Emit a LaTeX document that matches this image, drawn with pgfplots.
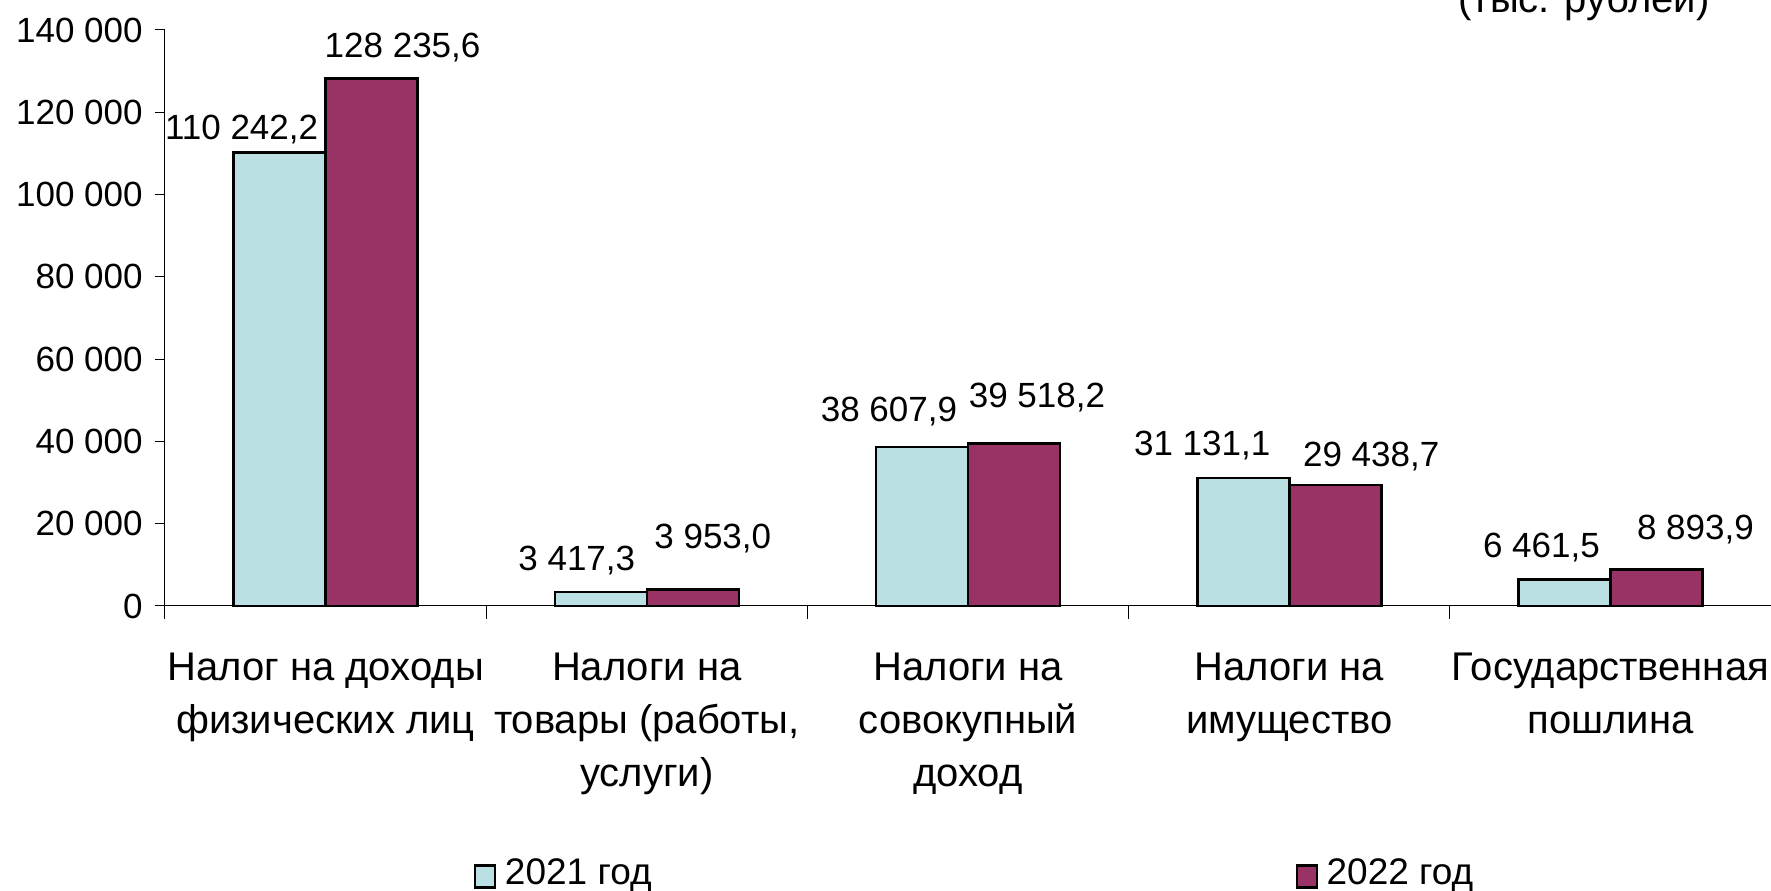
\documentclass[border=0pt]{standalone}
\usepackage{pgfplots}
\usepackage{pgfplotstable}
\pgfplotsset{compat=1.18}
\usepackage{fontspec}
\setmainfont{Liberation Sans}
\definecolor{c21}{HTML}{BBE0E3}
\definecolor{c22}{HTML}{993366}

\pgfplotstableread{
x y dx dy
0 110242.2 -19 6.5
1 3417.3 -12 10.5
2 38607.9 -16.5 13
3 31131.1 -20.5 11
4 6461.5 -11.5 11
}\dataA
\pgfplotstableread{
x y dx dy
0 128235.6 15.5 10.5
1 3953.0 10 20.5
2 39518.2 11.5 18
3 29438.7 18 9
4 8893.9 19.5 15
}\dataB

\begin{document}
\begin{tikzpicture}
\begin{axis}[
  scale only axis, width=803pt, height=288pt,
  xmin=-0.5, xmax=4.5, ymin=0, ymax=140000,
  scaled y ticks=false,
  axis x line=bottom, axis y line=left,
  axis line style={-, line width=0.5pt, black},
  tick align=outside,
  major tick length=5pt, minor tick length=6.5pt,
  tick style={black, line width=0.5pt},
  ybar=0pt, bar width=46pt,
  clip=false,
  ytick={0,20000,40000,60000,80000,100000,120000,140000},
  yticklabels={0,20 000,40 000,60 000,80 000,100 000,120 000,140 000},
  yticklabel style={font=\fontsize{17.5}{20}\selectfont, inner sep=0pt, anchor=east, xshift=-6pt},
  xtick={0,1,2,3,4},
  every major x tick/.style={draw=none},
  minor xtick={-0.5,0.5,1.5,2.5,3.5,4.5},
  xticklabels={{Налог на доходы\\физических лиц},{Налоги на\\товары (работы,\\услуги)},{Налоги на\\совокупный\\доход},{Налоги на\\имущество},{Государственная\\пошлина}},
  xticklabel style={font=\fontsize{20}{26.5}\selectfont, align=center, anchor=north, inner sep=0pt, yshift=-18.5pt},
  nodes near coords={\pgfmathprintnumber[fixed,fixed zerofill,precision=1,use comma,1000 sep={\ },assume math mode=true]{\pgfplotspointmeta}},
  every node near coord/.append style={font=\fontsize{17.5}{20}\selectfont, text=black, inner sep=0pt, anchor=base, xshift={\lblx*1pt}, yshift={\lbly*1pt}},
  visualization depends on={\thisrow{dx}\as\lblx},
  visualization depends on={\thisrow{dy}\as\lbly},
  legend columns=2,
  legend image code/.code={\draw[#1, line width=1.2pt] (0pt,-7.5pt) rectangle (10pt,3.5pt);},
  legend style={draw=none, fill=none, inner sep=0pt, outer sep=0pt,
    font=\fontsize{18.5}{22}\selectfont,
    at={(0.1924,-0.4948)}, anchor=south west,
    /tikz/every odd column/.append style={column sep=2.3pt},
    /tikz/every even column/.append style={column sep=320pt}},
]
\addplot[fill=c21, draw=black, line width=1.3pt] table[x=x,y=y]{\dataA};
\addplot[fill=c22, draw=black, line width=1.3pt] table[x=x,y=y]{\dataB};
\legend{2021 год, 2022 год}
\coordinate (SW) at (rel axis cs:0,0);
\coordinate (NE) at (rel axis cs:1,1);
\end{axis}
\node[font=\fontsize{20}{24}\selectfont, anchor=base west, inner sep=0pt] at ([xshift=-156.5pt, yshift=8.5pt]NE) {(тыс. рублей)};
\pgfresetboundingbox
\useasboundingbox ([xshift=-82.5pt, yshift=-142.5pt]SW) rectangle ([yshift=15pt]NE);
\end{tikzpicture}
\end{document}
